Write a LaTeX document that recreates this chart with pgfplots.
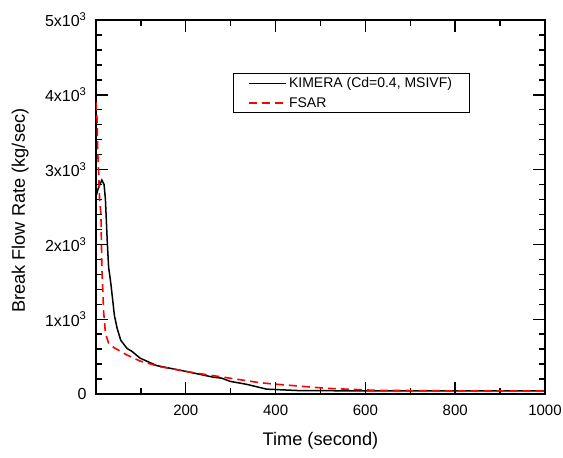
\documentclass[border=0pt]{standalone}
\usepackage{fontspec}
\setmainfont{Liberation Sans}
\usepackage{pgfplots}
\usepackage{pgfplotstable}
\pgfplotsset{compat=1.18}

% KIMERA (Cd=0.4, MSIVF) break flow
\pgfplotstableread{
t    w
0    2640
5    2750
13   2860
18   2800
21   2600
25   2050
28   1700
33   1480
41   1050
47   880
55   720
69   610
80   570
98   480
135  380
202  300
261  225
280  212
298  170
335  130
380  65
454  45
600  42
800  42
1000 42
}\kimera

% FSAR break flow
\pgfplotstableread{
t    w
0    3900
2.5  3660
4    3220
6    2950
8    2600
11   2400
13   1700
17   1100
21   815
28   680
40   620
69   521
98   441
143  365
217  285
276  232
291  218
365  151
395  134
513  76
624  49
800  42
1000 42
}\fsar

\begin{document}
\begin{tikzpicture}
\begin{axis}[
  scale only axis, width=449pt, height=374pt,
  xmin=0, xmax=1000, ymin=0, ymax=5000,
  xtick={200,400,...,1000}, minor xtick={100,300,500,700,900},
  ytick={0,1000,...,5000}, minor y tick num=4,
  yticklabels={0, 1x10\textsuperscript{3}, 2x10\textsuperscript{3},
    3x10\textsuperscript{3}, 4x10\textsuperscript{3}, 5x10\textsuperscript{3}},
  tick align=inside, tick pos=both,
  major tick length=12pt, minor tick length=6pt,
  axis line style={line width=1.6pt},
  every tick/.style={black, line width=1.4pt},
  /pgf/number format/assume math mode=true,
  /pgf/number format/1000 sep={},
  xticklabel style={yshift=-7pt, font=\fontsize{15}{18}\selectfont},
  yticklabel style={xshift=-6pt, font=\fontsize{16}{19}\selectfont},
  label style={font=\fontsize{18.2}{22}\selectfont},
  xlabel={Time (second)}, ylabel={Break Flow Rate (kg/sec)},
  xlabel style={at={(axis description cs:0.5,-0.126)}, anchor=center},
  ylabel style={at={(axis description cs:-0.169,0.49)}, anchor=center},
  legend image code/.code={\draw[#1] (0pt,0pt) -- (37pt,0pt);},
  legend cell align=left,
  legend style={at={(0.305,0.858)}, anchor=north west, draw=black,
    line width=1pt, inner xsep=15pt, inner ysep=2pt,
    font=\fontsize{14}{17}\selectfont, row sep=4pt},
]
\addplot[black, line width=1.5pt] table[x=t, y=w] {\kimera};
\addplot[red, line width=1.6pt, dash pattern=on 8pt off 5pt] table[x=t, y=w] {\fsar};
\legend{{KIMERA (Cd=0.4, MSIVF)\hspace{29pt}}, FSAR}
\end{axis}
\pgfresetboundingbox
\path (current axis.south west) ++(-96pt,-64pt) rectangle ++(563pt,458pt);
\end{tikzpicture}
\end{document}
